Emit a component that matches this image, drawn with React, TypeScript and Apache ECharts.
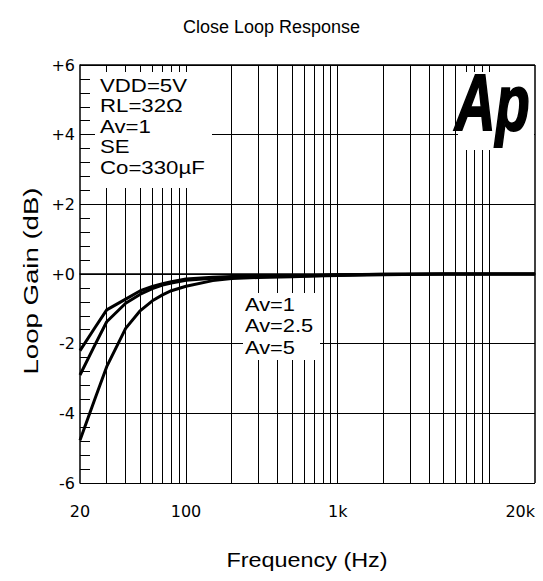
import React, { useEffect, useRef } from "react";
import * as echarts from "echarts";

// Frequencies (Hz) at which the curves were read
const frequencies = [20, 25, 30, 40, 50, 60, 70, 80, 100, 150, 200, 300, 500, 700, 1000, 2000, 5000, 10000, 20000];
// Loop gain (dB) for each closed-loop gain setting
const gainAv1 = [-2.2, -1.55, -1.03, -0.72, -0.48, -0.36, -0.28, -0.22, -0.14, -0.09, -0.07, -0.06, -0.05, -0.04, -0.02, -0.01, 0, 0, 0];
const gainAv25 = [-2.9, -2.05, -1.37, -0.84, -0.58, -0.42, -0.32, -0.26, -0.18, -0.12, -0.09, -0.07, -0.06, -0.05, -0.03, -0.01, 0, 0, 0];
const gainAv5 = [-4.77, -3.6, -2.66, -1.56, -1.05, -0.77, -0.6, -0.48, -0.35, -0.19, -0.13, -0.1, -0.08, -0.06, -0.04, -0.02, 0, 0, 0];

// Vertical grid lines (Hz)
const gridFrequencies = [
  30, 40, 50, 60, 70, 80, 90, 100,
  200, 300, 400, 500, 600, 700, 800, 900, 1000,
  2000, 3000, 4000, 5000, 6000, 7000, 8000, 9000, 10000,
];
// X tick labels
const xTickValues = [20, 100, 1000, 20000];
const xTickLabels = ["20", "100", "1k", "20k"];
// Y ticks
const yMin = -6;
const yMax = 6;
const yInterval = 2;

const conditionLines = ["VDD=5V", "RL=32Ω", "Av=1", "SE", "Co=330µF"];
const curveLabels = ["Av=1", "Av=2.5", "Av=5"];

const FONT = "Liberation Sans, Arial, Helvetica, sans-serif";
const TICK_FONT = "DejaVu Sans, Liberation Sans, sans-serif";

export default function App() {
  const ref = useRef<HTMLDivElement>(null);
  useEffect(() => {
    if (!ref.current) return;
    const chart = echarts.init(ref.current, undefined, { renderer: "svg" });
    const mk = (vals: number[]) => frequencies.map((f, i) => [f, vals[i]]);
    const lineStyle = { color: "#000", width: 3 };
    const graphic: any[] = [
      // axis names
      {
        type: "text", z: 101, x: 307, y: 560, scaleX: 1.17,
        style: { text: "Frequency (Hz)", fill: "#000", font: `20px ${FONT}`, textAlign: "center", textVerticalAlign: "middle" },
      },
      {
        type: "text", z: 101, x: 31, y: 281, rotation: Math.PI / 2, scaleX: 1.38,
        style: { text: "Loop Gain (dB)", fill: "#000", font: `20px ${FONT}`, textAlign: "center", textVerticalAlign: "middle" },
      },
      // condition box
      { type: "rect", z: 100, shape: { x: 95, y: 72, width: 117, height: 116 }, style: { fill: "#fff" } },
      ...conditionLines.map((t, i) => ({
        type: "text", z: 101, x: 100, y: 85 + i * 20.5, scaleX: 1.17,
        style: { text: t, fill: "#000", font: `19px ${FONT}`, textVerticalAlign: "middle" },
      })),
      // curve label box
      { type: "rect", z: 100, shape: { x: 243, y: 293, width: 77, height: 67 }, style: { fill: "#fff" } },
      ...curveLabels.map((t, i) => ({
        type: "text", z: 101, x: 245, y: 304 + i * 21.5, scaleX: 1.15,
        style: { text: t, fill: "#000", font: `19px ${FONT}`, textVerticalAlign: "middle" },
      })),
      // logo
      { type: "rect", z: 100, shape: { x: 458, y: 72, width: 76, height: 78 }, style: { fill: "#fff" } },
      {
        type: "text", z: 101, x: 455, y: 62, scaleX: 0.7,
        style: { text: "Ap", fill: "#000", font: `italic bold 80px ${FONT}`, textVerticalAlign: "top", stroke: "#000", lineWidth: 2 },
      },
    ];
    chart.setOption({
      animation: false,
      backgroundColor: "#fff",
      title: {
        text: "Close Loop Response",
        left: "center",
        top: 13,
        textStyle: { fontFamily: FONT, fontSize: 18, fontWeight: "normal", color: "#000" },
      },
      grid: { left: 80, top: 65, right: 8, bottom: 98, show: false },
      xAxis: {
        type: "log",
        logBase: 10,
        min: 20,
        max: 20000,
        axisLine: { show: true, lineStyle: { color: "#000", width: 1.5 } },
        axisTick: { show: false },
        splitLine: { show: false },
        minorTick: { show: false },
        minorSplitLine: { show: false },
        axisLabel: {
          show: true,
          margin: 20,
          color: "#000",
          fontFamily: TICK_FONT,
          fontSize: 16,
          showMinLabel: true,
          showMaxLabel: true,
          alignMaxLabel: "right",
          formatter: (v: number) => {
            const idx = xTickValues.findIndex((t) => Math.abs(t - v) / t < 1e-6);
            return idx >= 0 ? xTickLabels[idx] : "";
          },
        },
      },
      yAxis: {
        type: "value",
        min: yMin,
        max: yMax,
        interval: yInterval,
        axisLine: { show: true, lineStyle: { color: "#000", width: 1.5 } },
        axisTick: { show: true, inside: true, length: 10, lineStyle: { color: "#000" } },
        minorTick: { show: true, splitNumber: 5, length: 10, lineStyle: { color: "#000", width: 1 } },
        splitLine: { show: true, lineStyle: { color: "#000", width: 1 } },
        axisLabel: {
          color: "#000",
          fontFamily: TICK_FONT,
          fontSize: 16,
          margin: 5,
          formatter: (v: number) => (v >= 0 ? "+" + v : String(v)),
        },
      },
      graphic,
      series: [
        {
          type: "line",
          name: "Av=1",
          data: mk(gainAv1),
          symbol: "none",
          lineStyle,
          markLine: {
            silent: true,
            symbol: "none",
            label: { show: false },
            lineStyle: { color: "#000", width: 1, type: "solid" },
            data: gridFrequencies.map((f) => ({ xAxis: f })),
          },
        },
        { type: "line", name: "Av=2.5", data: mk(gainAv25), symbol: "none", lineStyle },
        { type: "line", name: "Av=5", data: mk(gainAv5), symbol: "none", lineStyle },
        {
          type: "line",
          data: [],
          markLine: {
            silent: true,
            symbol: "none",
            label: { show: false },
            lineStyle: { color: "#000", width: 1.5, type: "solid" },
            data: [{ yAxis: yMax }, { xAxis: 20000 }],
          },
        },
      ],
    });
    return () => chart.dispose();
  }, []);
  return <div ref={ref} style={{ position: "absolute", left: 0, top: 0, width: 543, height: 581 }} />;
}
